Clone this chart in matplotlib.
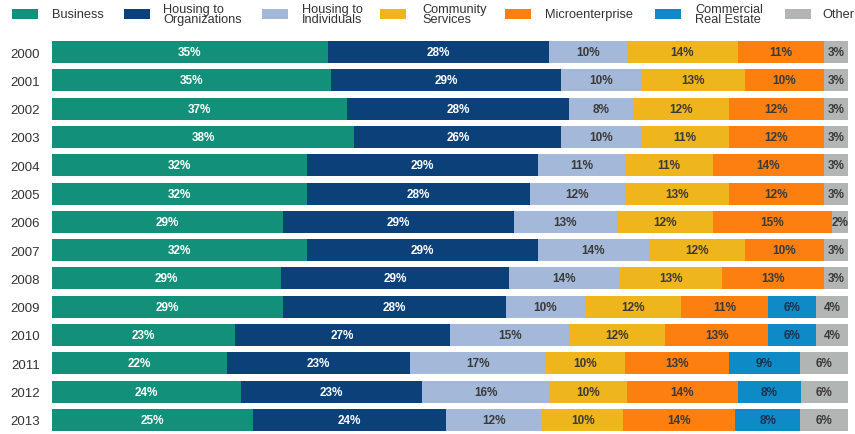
import matplotlib
matplotlib.use("Agg")
import matplotlib.pyplot as plt
from matplotlib.patches import Rectangle
import numpy as np

plt.rcParams['font.family'] = ['Liberation Sans', 'DejaVu Sans']

years = ["2000", "2001", "2002", "2003", "2004", "2005", "2006",
         "2007", "2008", "2009", "2010", "2011", "2012", "2013"]
categories = ["Business", "Housing to\nOrganizations", "Housing to\nIndividuals",
              "Community\nServices", "Microenterprise", "Commercial\nReal Estate", "Other"]
business      = [35, 35, 37, 38, 32, 32, 29, 32, 29, 29, 23, 22, 24, 25]
housing_org   = [28, 29, 28, 26, 29, 28, 29, 29, 29, 28, 27, 23, 23, 24]
housing_ind   = [10, 10, 8, 10, 11, 12, 13, 14, 14, 10, 15, 17, 16, 12]
community     = [14, 13, 12, 11, 11, 13, 12, 12, 13, 12, 12, 10, 10, 10]
microent      = [11, 10, 12, 12, 14, 12, 15, 10, 13, 11, 13, 13, 14, 14]
commercial_re = [0, 0, 0, 0, 0, 0, 0, 0, 0, 6, 6, 9, 8, 8]
other         = [3, 3, 3, 3, 3, 3, 2, 3, 3, 4, 4, 6, 6, 6]

series = [business, housing_org, housing_ind, community, microent, commercial_re, other]
colors = ["#139079", "#0b4079", "#a4b9d9", "#efb51d", "#fc7f0f", "#0e8bc6", "#b1b6b4"]
text_colors = ["white", "white", "#3a3a3a", "#3a3a3a", "#3a3a3a", "#1f2f4a", "#3a3a3a"]

data = np.array(series, dtype=float)
totals = data.sum(axis=0)
shares = data / totals * 100

fig = plt.figure(figsize=(8.55, 4.35), dpi=100)
ax = fig.add_axes([52/855, 0.0, (848-52)/855, 1 - 39/435])

y = np.arange(len(years))
left = np.zeros(len(years))
for i, (vals, w) in enumerate(zip(data, shares)):
    ax.barh(y, w, left=left, height=0.78, color=colors[i], edgecolor="none")
    for j in range(len(years)):
        if vals[j] > 0:
            ax.text(left[j] + w[j] / 2, y[j], f"{int(vals[j])}%", ha="center", va="center",
                    fontsize=8.5, fontweight="bold", color=text_colors[i])
    left += w

ax.set_xlim(0, 100)
ax.set_ylim(len(years) - 0.5, -0.5)
ax.set_yticks(y)
ax.set_yticklabels(years, fontsize=9.5, color="#333333")
ax.tick_params(axis="y", length=0, pad=8.5)
ax.set_xticks([])
for s in ax.spines.values():
    s.set_visible(False)

# legend drawn manually
patch_x = [12, 124, 262, 380, 505, 655, 785]
text_x = [52, 163, 302, 422, 545, 695, 822]
W, H = 855, 435
for i, lab in enumerate(categories):
    fig.add_artist(Rectangle((patch_x[i] / W, 1 - 20 / H), 26 / W, 10 / H,
                             transform=fig.transFigure, color=colors[i], lw=0))
    fig.text(text_x[i] / W, 1 - 15 / H, lab, ha="left", va="center", fontsize=9.2,
             color="#333333", linespacing=0.8)

fig.savefig("out.png", dpi=100, facecolor="white")
